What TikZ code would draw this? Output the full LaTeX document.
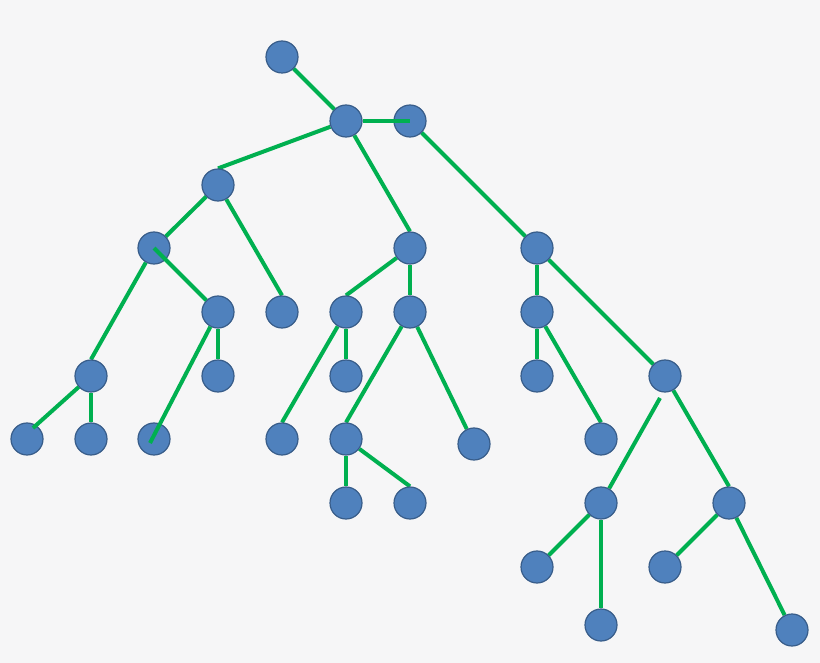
\documentclass[tikz,border=0pt]{standalone}
\pgfdeclarelayer{paper}
\pgfdeclarelayer{edges}
\pgfsetlayers{paper,edges,main}
\definecolor{nodeblue}{HTML}{4F81BD}
\definecolor{nodeline}{HTML}{385D8A}
\definecolor{edgegreen}{HTML}{00B050}
\definecolor{paper}{HTML}{F6F6F7}

\begin{document}
\begin{tikzpicture}[x=1pt, y=-1pt, main/.style = {draw=nodeline, line width=1.2pt, fill=nodeblue, circle, minimum size=32pt, inner sep=0pt}, edge/.style = {draw=edgegreen, line width=4pt}]
	\begin{pgfonlayer}{paper}
		\fill[paper] (0,0) rectangle (820,663);
	\end{pgfonlayer}
	\useasboundingbox (0,0) rectangle (820,663);
	\node[main] (1) at (282,57) {};
	\node[main] (2) at (346,121) {};
	\node[main] (3) at (410,121) {};
	\node[main] (4) at (218,185) {};
	\node[main] (5) at (154,248) {};
	\node[main] (6) at (410,248) {};
	\node[main] (7) at (537,248) {};
	\node[main] (8) at (218,312) {};
	\node[main] (9) at (282,312) {};
	\node[main] (10) at (346,312) {};
	\node[main] (11) at (410,312) {};
	\node[main] (12) at (537,312) {};
	\node[main] (13) at (91,376) {};
	\node[main] (14) at (218,376) {};
	\node[main] (15) at (346,376) {};
	\node[main] (16) at (537,376) {};
	\node[main] (17) at (665,376) {};
	\node[main] (18) at (27,439) {};
	\node[main] (19) at (91,439) {};
	\node[main] (20) at (154,439) {};
	\node[main] (21) at (282,439) {};
	\node[main] (22) at (346,439) {};
	\node[main] (23) at (474,444) {};
	\node[main] (24) at (601,439) {};
	\node[main] (25) at (346,503) {};
	\node[main] (26) at (410,503) {};
	\node[main] (27) at (601,503) {};
	\node[main] (28) at (729,503) {};
	\node[main] (29) at (537,567) {};
	\node[main] (30) at (665,567) {};
	\node[main] (31) at (601,625) {};
	\node[main] (32) at (792,630) {};
	\begin{pgfonlayer}{edges}
		\draw[edge] (1) -- (2);
		\draw[edge] (2) -- (4.north);
		\draw[edge] (2) -- (6.north);
		\draw[edge] (3) -- (7);
		\draw[edge] (4) -- (5);
		\draw[edge] (4) -- (9.north);
		\draw[edge] (5) -- (13.north);
		\draw[edge] (6) -- (10.north);
		\draw[edge] (6) -- (11);
		\draw[edge] (7) -- (12);
		\draw[edge] (7) -- (17);
		\draw[edge] (8) -- (14);
		\draw[edge] (10) -- (15);
		\draw[edge] (10) -- (21.north);
		\draw[edge] (11) -- (22.north);
		\draw[edge] (11) -- (23);
		\draw[edge] (12) -- (16);
		\draw[edge] (12) -- (24.north);
		\draw[edge] (13) -- (19);
		\draw[edge] ([xshift=-5pt,yshift=-22pt]17.center) -- (27);
		\draw[edge] (17) -- (28.north);
		\draw[edge] (22) -- (25);
		\draw[edge] (22) -- (26.north);
		\draw[edge] (27) -- (29);
		\draw[edge] (27) -- (31);
		\draw[edge] (28) -- (30);
		\draw[edge] (28) -- (32);
	\end{pgfonlayer}
	\draw[edge] (2) -- (3.center);
	\draw[edge] (5.center) -- (8);
	\draw[edge] (8) -- ([xshift=-4pt,yshift=-4pt]20.center);
	\draw[edge] (13) -- ([xshift=6pt,yshift=11pt]18.center);
\end{tikzpicture}
\end{document}
